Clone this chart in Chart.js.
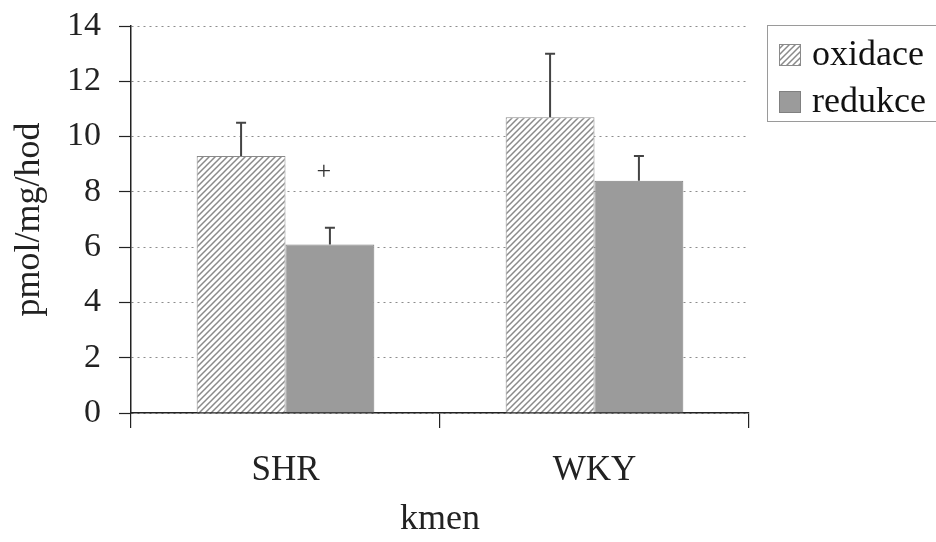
<!DOCTYPE html>
<html>
<head>
<meta charset="utf-8">
<script src="https://cdn.jsdelivr.net/npm/chart.js@4/dist/chart.umd.min.js"></script>
<style>
  html, body { margin: 0; padding: 0; background: #fff; }
  #wrap { width: 936px; height: 542px; }
</style>
</head>
<body>
<div id="wrap"><canvas id="c" width="936" height="542"></canvas></div>
<script>
// strains on the x axis
const categories = ['SHR', 'WKY'];
// mean activity (pmol/mg/hod)
const oxidace = [9.3, 10.7];
const redukce = [6.1, 8.4];
// standard deviations, drawn upward only
const oxidaceSD = [1.2, 2.3];
const redukceSD = [0.6, 0.9];
// significance mark above the reduction bar of each strain
const markText = ['+', ''];
const markValue = [8.7, null];

const SERIF = '"Liberation Serif", "DejaVu Serif", serif';

// diagonal hatch for the oxidation bars
function hatch() {
  const s = 6;
  const c = document.createElement('canvas');
  c.width = s; c.height = s;
  const g = c.getContext('2d');
  g.fillStyle = '#ffffff';
  g.fillRect(0, 0, s, s);
  g.strokeStyle = '#8a8a8a';
  g.lineWidth = 1.5;
  g.beginPath();
  g.moveTo(-1, s + 1); g.lineTo(s + 1, -1);
  g.moveTo(-1, 1); g.lineTo(1, -1);
  g.moveTo(s - 1, s + 1); g.lineTo(s + 1, s - 1);
  g.stroke();
  return g.createPattern(c, 'repeat');
}
const hatchFill = hatch();

// upward error bars with short caps
const errorBars = {
  id: 'errorBars',
  afterDatasetsDraw(chart) {
    const ctx = chart.ctx, y = chart.scales.y;
    const sds = [oxidaceSD, redukceSD];
    ctx.save();
    ctx.strokeStyle = '#444';
    ctx.lineWidth = 2;
    chart.data.datasets.forEach((ds, di) => {
      chart.getDatasetMeta(di).data.forEach((bar, i) => {
        const top = y.getPixelForValue(ds.data[i] + sds[di][i]);
        ctx.beginPath();
        ctx.moveTo(bar.x, bar.y);
        ctx.lineTo(bar.x, top);
        ctx.moveTo(bar.x - 5, top);
        ctx.lineTo(bar.x + 5, top);
        ctx.stroke();
      });
    });
    // significance marks
    ctx.fillStyle = '#333';
    ctx.font = '26px ' + SERIF;
    ctx.textAlign = 'center';
    ctx.textBaseline = 'middle';
    const meta = chart.getDatasetMeta(1);
    markText.forEach((t, i) => {
      if (!t) return;
      const bar = meta.data[i];
      ctx.fillText(t, bar.x - 6, y.getPixelForValue(markValue[i]));
    });
    ctx.restore();
  }
};

// boxed legend at the upper right
const boxLegend = {
  id: 'boxLegend',
  afterDraw(chart) {
    const ctx = chart.ctx;
    ctx.save();
    ctx.strokeStyle = '#9a9a9a';
    ctx.lineWidth = 1;
    ctx.strokeRect(767.5, 25.5, 170, 96);
    ctx.font = '36px ' + SERIF;
    ctx.textBaseline = 'middle';
    chart.data.datasets.forEach((ds, i) => {
      const cy = 54 + i * 47;
      ctx.fillStyle = ds.backgroundColor;
      ctx.fillRect(779, cy - 10, 21, 21);
      ctx.strokeStyle = ds.borderColor;
      ctx.lineWidth = 1;
      ctx.strokeRect(779.5, cy - 9.5, 21, 21);
      ctx.fillStyle = '#111';
      ctx.fillText(ds.label, 812, cy + 2);
    });
    ctx.restore();
  }
};

new Chart(document.getElementById('c'), {
  type: 'bar',
  data: {
    labels: categories,
    datasets: [
      { label: 'oxidace', data: oxidace, backgroundColor: hatchFill, borderColor: '#8a8a8a', borderWidth: 1 },
      { label: 'redukce', data: redukce, backgroundColor: '#9b9b9b', borderColor: '#808080', borderWidth: 1 }
    ]
  },
  options: {
    responsive: false,
    animation: false,
    devicePixelRatio: 1,
    categoryPercentage: 0.575,
    barPercentage: 1,
    layout: { padding: { left: 0, top: 26, right: 187, bottom: 0 } },
    plugins: { legend: { display: false }, tooltip: { enabled: false } },
    scales: {
      x: {
        grid: { offset: true, drawOnChartArea: false, color: '#222', tickLength: 15, lineWidth: 1.2 },
        border: { display: true, color: '#222', width: 1.5 },
        ticks: { color: '#222', font: { family: SERIF, size: 35 }, padding: 22 },
        title: { display: true, text: 'kmen', color: '#222', font: { family: SERIF, size: 36 }, padding: { top: 10, bottom: 1 } },
        afterFit(s) { s.height = 129; }
      },
      y: {
        min: 0, max: 14,
        grid: { color: '#8c8c8c', lineWidth: 1, tickLength: 12, tickColor: '#222', tickWidth: 1.2, tickBorderDash: [] },
        border: { display: true, color: '#222', width: 1.5, dash: [2, 4] },
        ticks: { stepSize: 2, color: '#222', font: { family: SERIF, size: 34 }, padding: 18 },
        title: { display: true, text: 'pmol/mg/hod', color: '#222', font: { family: SERIF, size: 36 }, padding: { top: 8, bottom: 0 } },
        afterFit(s) { s.width = 131; s.paddingTop = 0; s.paddingBottom = 0; }
      }
    }
  },
  plugins: [errorBars, boxLegend]
});
</script>
</body>
</html>
